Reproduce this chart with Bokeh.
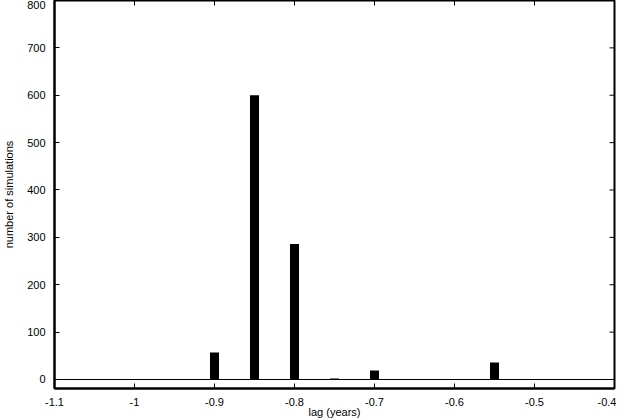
import math
from bokeh.plotting import figure
from bokeh.models import LinearAxis, FixedTicker, Span, Range1d
from bokeh.embed import file_html
from bokeh.resources import INLINE

lag = [-0.9, -0.85, -0.8, -0.75, -0.7, -0.55]
counts = [57, 600, 286, 2, 19, 36]
x_ticks = [-1.1, -1.0, -0.9, -0.8, -0.7, -0.6, -0.5, -0.4]
x_tick_labels = ["-1.1", "-1", "-0.9", "-0.8", "-0.7", "-0.6", "-0.5", "-0.4"]
y_ticks = [0, 100, 200, 300, 400, 500, 600, 700, 800]
x_min, x_max = -1.1, -0.4
y_min, y_max = -19, 800

FONT = "Liberation Sans"

p = figure(width=616, height=420, output_backend="svg", toolbar_location=None,
           x_range=Range1d(x_min, x_max), y_range=Range1d(y_min, y_max),
           x_axis_location=None, y_axis_location=None,
           min_border_left=54, min_border_right=2, min_border_top=0, min_border_bottom=32)
p.grid.visible = False
p.outline_line_color = "black"
p.outline_line_width = 2
p.background_fill_color = "white"

def style(ax):
    ax.axis_line_color = "black"
    ax.axis_line_width = 2
    ax.major_tick_in = 5
    ax.major_tick_out = 0
    ax.minor_tick_line_color = None
    ax.major_tick_line_color = "black"
    ax.major_tick_line_width = 1
    ax.major_label_text_font = FONT
    ax.major_label_text_font_size = "11px"
    ax.major_label_text_color = "black"
    ax.axis_label_text_font = FONT
    ax.axis_label_text_font_size = "11px"
    ax.axis_label_text_font_style = "normal"
    ax.axis_label_text_color = "black"

xb = LinearAxis(ticker=FixedTicker(ticks=x_ticks), axis_label="lag (years)")
xb.major_label_overrides = {t: l for t, l in zip(x_ticks, x_tick_labels)}
style(xb)
xb.major_label_standoff = 9
xb.axis_label_standoff = -3
p.add_layout(xb, "below")

yl = LinearAxis(ticker=FixedTicker(ticks=y_ticks), axis_label="number of simulations")
style(yl)
yl.major_label_standoff = 9
yl.axis_label_standoff = 9
p.add_layout(yl, "left")

# mirrored ticks on top and right edges
p.ray(x=x_ticks, y=[y_max] * len(x_ticks), length=5, length_units="screen",
      angle=-math.pi / 2, line_color="black", line_width=1)
p.ray(x=[x_max] * len(y_ticks), y=y_ticks, length=5, length_units="screen",
      angle=math.pi, line_color="black", line_width=1)

p.add_layout(Span(location=0, dimension="width", line_color="black", line_width=1))

p.vbar(x=lag, top=counts, bottom=0, width=0.0113, fill_color="black", line_color=None)

open("out.html", "w").write(file_html(p, INLINE))
